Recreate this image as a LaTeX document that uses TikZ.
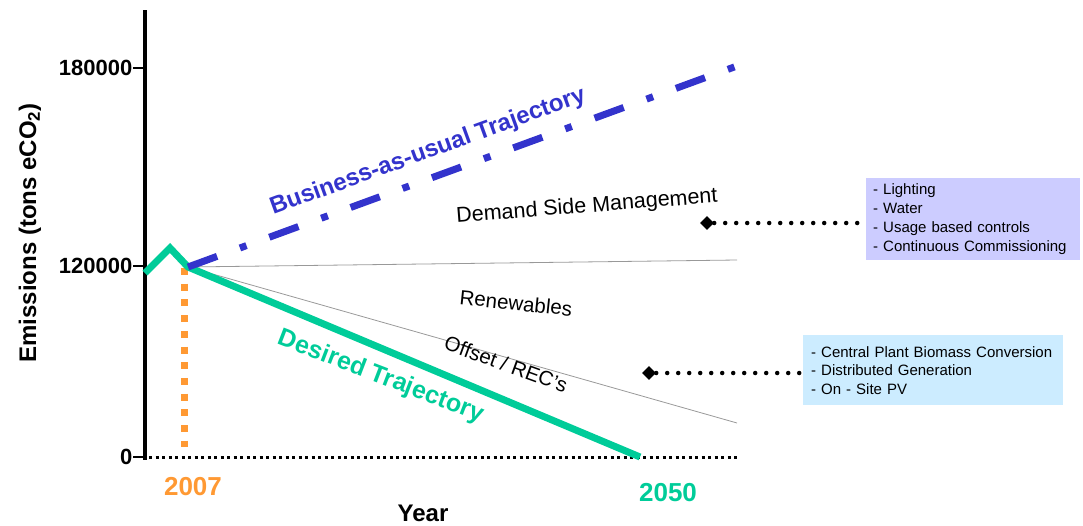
\documentclass[tikz,border=0pt]{standalone}
\usepackage{fontspec}
\setmainfont{Liberation Sans}
\usetikzlibrary{shapes.geometric}

\definecolor{bauBlue}{RGB}{51,51,204}
\definecolor{desGreen}{RGB}{0,204,153}
\definecolor{yrOrange}{RGB}{255,153,51}
\definecolor{lavBox}{RGB}{204,204,255}
\definecolor{skyBox}{RGB}{204,236,255}

\tikzset{
	lbl/.style={inner sep=0pt, font=\fontsize{20.5}{24}\selectfont},
	blbl/.style={inner sep=0pt, font=\bfseries\fontsize{24}{28}\selectfont},
	ticklbl/.style={anchor=east, inner sep=0pt, font=\bfseries\fontsize{22}{26}\selectfont},
	notebox/.style={anchor=north west, align=left, inner ysep=0pt},
	marker/.style={diamond, fill=black, inner sep=0pt, minimum size=14pt},
	leader/.style={line width=4.5pt, line cap=round, dash pattern=on 0pt off 11pt},
}

\begin{document}
\begin{tikzpicture}[x=1pt, y=-1pt]
	\useasboundingbox (0,0) rectangle (1083,525);
	% axes
	\coordinate (ytop) at (145,10);
	\coordinate (origin) at (145,460);
	\coordinate (xstart) at (149,457);
	\coordinate (xend) at (737,457);
	\draw [line width=4pt] (ytop) -- (origin);
	\draw [line width=3pt, dash pattern=on 3pt off 3.5pt] (xstart) -- (xend);
	\foreach \val/\ypos in {0/457, 120000/266, 180000/68} {
		\coordinate (tk\val) at (145,\ypos);
		\draw [line width=1.2pt] (tk\val) -- +(-12,0) node [ticklbl] (tl\val) {\val};
	}
	\node [blbl, rotate=90] (ylab) at (30,233) {Emissions (tons eCO\textsubscript{2})};
	\node [blbl] (xlab) at (423,513) {Year};
	% trajectories
	\coordinate (g0) at (145,273);
	\coordinate (gpeak) at (170,248);
	\coordinate (base) at (188,267);
	\coordinate (gend) at (640,457);
	\coordinate (bauend) at (737,66);
	\coordinate (dsmend) at (737,260);
	\coordinate (renend) at (737,423);
	\coordinate (ytop07) at (184,268);
	\coordinate (ybot07) at (184,447);
	\draw [gray!80, line width=0.8pt] (base) -- (dsmend);
	\draw [gray!80, line width=0.8pt] (base) -- (renend);
	\draw [yrOrange, line width=7pt, dash pattern=on 7pt off 8.7pt] (ytop07) -- (ybot07);
	\draw [desGreen, line width=7pt, line join=miter] (g0) -- (gpeak) -- (base) -- (gend);
	\draw [bauBlue, line width=7pt, dash pattern=on 31pt off 24.3pt on 7pt off 24.3pt] (base) -- (bauend);
	% year labels
	\node [blbl, yrOrange, font=\bfseries\fontsize{26}{30}\selectfont] (y2007) at (193,487) {2007};
	\node [blbl, desGreen, font=\bfseries\fontsize{26}{30}\selectfont] (y2050) at (668,493) {2050};
	% wedge labels
	\node [blbl, bauBlue, rotate=20] (baulab) at (428,152) {Business-as-usual Trajectory};
	\node [blbl, desGreen, rotate=-21, font=\bfseries\fontsize{25}{29}\selectfont] (deslab) at (381,377) {Desired Trajectory};
	\node [lbl, rotate=4.5, font=\fontsize{21.5}{25}\selectfont] (dsmlab) at (587,207) {Demand Side Management};
	\node [lbl, rotate=-6] (renlab) at (516,303) {Renewables};
	\node [lbl, rotate=-20] (offlab) at (506,364) {Offset / REC's};
	% notes
	\node [notebox, fill=lavBox, inner xsep=7pt, text width=200pt, minimum height=82pt, font=\fontsize{15}{19}\selectfont] (dsmnote) at (866,178)
		{- Lighting\\- Water\\- Usage based controls\\- Continuous Commissioning};
	\node [notebox, fill=skyBox, inner xsep=8pt, text width=244pt, minimum height=70pt, font=\fontsize{15}{18.5}\selectfont] (rennote) at (803,335)
		{- Central Plant Biomass Conversion\\- Distributed Generation\\- On - Site PV};
	\node [marker] (dsmmark) at (707,223) {};
	\node [marker] (renmark) at (649,373) {};
	\draw [leader] (dsmmark.east) -- (dsmmark.east -| dsmnote.west);
	\draw [leader] (renmark.east) -- (renmark.east -| rennote.west);
\end{tikzpicture}
\end{document}
